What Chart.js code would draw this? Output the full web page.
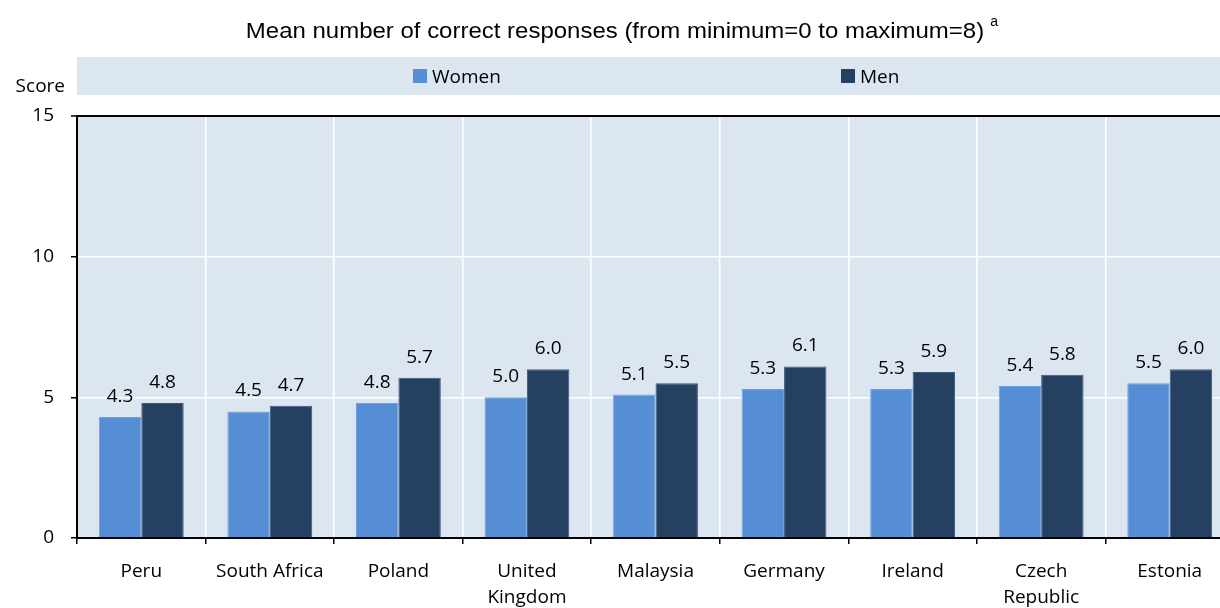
<!DOCTYPE html>
<html>
<head>
<meta charset="utf-8">
<script src="https://cdn.jsdelivr.net/npm/chart.js@4.4.1/dist/chart.umd.min.js"></script>
<style>
  html, body { margin: 0; padding: 0; background: #ffffff; overflow: hidden; }
  #wrap { width: 1220px; height: 608px; position: relative; overflow: hidden; }
</style>
</head>
<body>
<div id="wrap"><canvas id="chart" width="1234" height="608"></canvas></div>
<script>
// data
const countries = ['Peru', 'South Africa', 'Poland', ['United', 'Kingdom'], 'Malaysia', 'Germany', 'Ireland', ['Czech', 'Republic'], 'Estonia'];
const women = [4.3, 4.5, 4.8, 5.0, 5.1, 5.3, 5.3, 5.4, 5.5];
const men = [4.8, 4.7, 5.7, 6.0, 5.5, 6.1, 5.9, 5.8, 6.0];
const yTicks = [0, 5, 10, 15];

const FONT = '"Open Sans", Lato, sans-serif';
const bandColor = '#dce6f1';

// background band, title, score label, legend, value labels
const decorPlugin = {
  id: 'decor',
  beforeDraw(chart) {
    const { ctx, chartArea } = chart;
    ctx.save();
    ctx.fillStyle = bandColor;
    ctx.fillRect(chartArea.left, chartArea.top, chartArea.right - chartArea.left, chartArea.bottom - chartArea.top);
    ctx.fillRect(chartArea.left, 57, chart.width - chartArea.left, 38);

    // title (source text looks slightly stretched horizontally)
    ctx.fillStyle = '#000';
    ctx.textBaseline = 'alphabetic';
    ctx.textAlign = 'left';
    const title = 'Mean number of correct responses (from minimum=0 to maximum=8)';
    ctx.font = '22px "Liberation Sans", Arial, sans-serif';
    const sx = 1.09;
    const tw = ctx.measureText(title).width * sx;
    const tx = 615 - tw / 2;
    ctx.save();
    ctx.translate(tx, 38);
    ctx.scale(sx, 1);
    ctx.fillText(title, 0, 0);
    ctx.restore();
    ctx.font = '14px "Liberation Sans", Arial, sans-serif';
    ctx.fillText('a', tx + tw + 6, 26);

    // y axis title
    ctx.font = '19px ' + FONT;
    ctx.textAlign = 'right';
    ctx.fillText('Score', 65, 92);

    // legend
    const pos = [413, 841];
    ctx.textAlign = 'left';
    chart.data.datasets.forEach((ds, i) => {
      ctx.fillStyle = ds.backgroundColor;
      ctx.fillRect(pos[i], 69, 14, 14);
      ctx.fillStyle = '#000';
      ctx.fillText(ds.label, pos[i] + 19, 83);
    });
    ctx.restore();
  },
  afterDatasetsDraw(chart) {
    const { ctx } = chart;
    ctx.save();
    ctx.fillStyle = '#000';
    ctx.font = '19px ' + FONT;
    ctx.textAlign = 'center';
    ctx.textBaseline = 'alphabetic';
    chart.data.datasets.forEach((ds, i) => {
      chart.getDatasetMeta(i).data.forEach((bar, j) => {
        ctx.fillText(ds.data[j].toFixed(1), bar.x, bar.y - 15);
      });
    });
    ctx.restore();
  }
};

new Chart(document.getElementById('chart'), {
  type: 'bar',
  data: {
    labels: countries,
    datasets: [
      { label: 'Women', data: women, backgroundColor: '#558ed5', borderColor: '#6f9fd8', borderWidth: 1, borderSkipped: 'bottom' },
      { label: 'Men', data: men, backgroundColor: '#254061', borderColor: '#3d5a7e', borderWidth: 1, borderSkipped: 'bottom' }
    ]
  },
  options: {
    responsive: false,
    animation: false,
    categoryPercentage: 0.66,
    barPercentage: 1,
    layout: { padding: { top: 116, right: 0, left: 0, bottom: 0 } },
    plugins: {
      legend: { display: false },
      tooltip: { enabled: false }
    },
    scales: {
      x: {
        afterFit(scale) { scale.height = 70; },
        grid: {
          offset: true,
          color: (c) => c.index === 0 ? 'rgba(0,0,0,0)' : '#ffffff',
          lineWidth: 1.5,
          tickColor: '#000',
          tickLength: 6,
          tickWidth: 1.5
        },
        border: { color: '#000', width: 2 },
        ticks: {
          color: '#000',
          font: { family: FONT, size: 19, lineHeight: '26px' },
          padding: 15,
          maxRotation: 0,
          autoSkip: false
        }
      },
      y: {
        min: 0,
        max: 15,
        afterFit(scale) { scale.width = 77; },
        afterBuildTicks(scale) { scale.ticks = yTicks.map(v => ({ value: v })); },
        grid: {
          color: (c) => (c.tick && (c.tick.value === 15 || c.tick.value === 0)) ? '#000' : '#ffffff',
          lineWidth: (c) => (c.tick && c.tick.value === 15) ? 2 : 1.5,
          tickColor: '#000',
          tickLength: 6,
          tickWidth: 1.5
        },
        border: { color: '#000', width: 2 },
        ticks: {
          color: '#000',
          font: { family: FONT, size: 19 },
          padding: 17
        }
      }
    }
  },
  plugins: [decorPlugin]
});
</script>
</body>
</html>
